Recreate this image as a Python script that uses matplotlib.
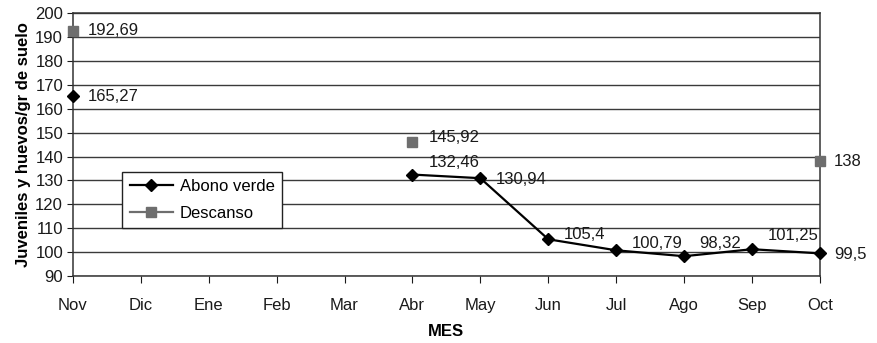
import numpy as np
import matplotlib.pyplot as plt

meses = ['Nov', 'Dic', 'Ene', 'Feb', 'Mar', 'Abr', 'May', 'Jun', 'Jul', 'Ago', 'Sep', 'Oct']
nan = np.nan
abono_verde = [165.27, nan, nan, nan, nan, 132.46, 130.94, 105.4, 100.79, 98.32, 101.25, 99.5]
descanso = [192.69, nan, nan, nan, nan, 145.92, nan, nan, nan, nan, nan, 138]

# label offsets in pixels (dx, dy) for each month
off_abono = [(15, 0), None, None, None, None, (16, 12), (15, -1), (15, 5), (16, 7), (15, 13), (16, 14), (14, -1)]
off_desc = [(15, 0), None, None, None, None, (16, 5), None, None, None, None, None, (14, 0)]

plt.rcParams['font.family'] = ['Liberation Sans', 'DejaVu Sans']
plt.rcParams['font.size'] = 12

fig = plt.figure(figsize=(8.77, 3.43), dpi=100)
ax = fig.add_axes([0.083, 0.195, 0.852, 0.767])

x = np.arange(len(meses))
ax.plot(x, abono_verde, color='black', lw=1.6, marker='D', ms=6.5, label='Abono verde',
        zorder=3, clip_on=False)
ax.plot(x, descanso, color='#6e6e6e', lw=1.6, marker='s', ms=7.5, mec='#6e6e6e', label='Descanso',
        zorder=3, clip_on=False)


def fmt(v):
    s = ('%.2f' % v).rstrip('0').rstrip('.')
    return s.replace('.', ',')


for serie, offs in ((abono_verde, off_abono), (descanso, off_desc)):
    for i, v in enumerate(serie):
        if np.isnan(v):
            continue
        ax.annotate(fmt(v), (i, v), xytext=offs[i], textcoords='offset pixels',
                    ha='left', va='center', fontsize=12, color='#1a1a1a')

ax.set_xlim(0, 11)
ax.set_ylim(90, 200)
ax.set_yticks(np.arange(90, 201, 10))
ax.set_xticks(x)
ax.set_xticklabels(meses)
ax.yaxis.grid(True, color='#3a3a3a', lw=1.0)
ax.set_axisbelow(True)
for s in ax.spines.values():
    s.set_color('#333333')
    s.set_linewidth(1.1)
ax.tick_params(axis='x', direction='out', length=5, pad=11, colors='#1a1a1a')
ax.tick_params(axis='y', direction='out', length=4, pad=3, colors='#1a1a1a')

ax.set_xlabel('MES', fontweight='bold', labelpad=8)
ax.set_ylabel('Juveniles y huevos/gr de suelo', fontweight='bold', labelpad=3)

leg = ax.legend(loc='upper left', bbox_to_anchor=(0.066, 0.397), fancybox=False,
                edgecolor='#222222', framealpha=1, handlelength=2.6,
                borderpad=0.45, labelspacing=0.7, handletextpad=0.4, borderaxespad=0)
leg.get_frame().set_linewidth(1.0)

fig.savefig('out.png', dpi=100)
